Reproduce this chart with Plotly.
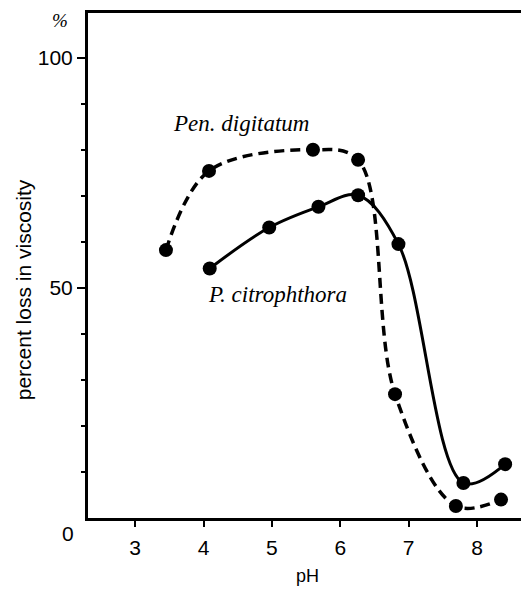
import plotly.graph_objects as go

pen_ph = [3.45, 4.08, 5.60, 6.26, 6.80, 7.69, 8.35]
pen_loss = [58.2, 75.4, 80.0, 77.8, 26.9, 2.6, 4.0]
cit_ph = [4.09, 4.96, 5.68, 6.26, 6.85, 7.80, 8.41]
cit_loss = [54.2, 63.1, 67.6, 70.1, 59.5, 7.6, 11.7]
x_ticks = [3, 4, 5, 6, 7, 8]
y_label_ticks = [50, 100]
y_minor_ticks = [10, 20, 30, 40, 60, 70, 80, 90]

fig = go.Figure()
fig.add_trace(go.Scatter(x=pen_ph, y=pen_loss, mode="lines+markers",
                         line=dict(color="black", width=3.5, dash="10px,6px", shape="spline", smoothing=1.0),
                         marker=dict(color="black", size=14), name="Pen. digitatum"))
fig.add_trace(go.Scatter(x=cit_ph, y=cit_loss, mode="lines+markers",
                         line=dict(color="black", width=3, shape="spline", smoothing=1.0),
                         marker=dict(color="black", size=14), name="P. citrophthora"))

tick_font = dict(family="Liberation Sans Narrow, Liberation Sans, Arial", size=21, color="black")
title_font = dict(family="Liberation Sans, Arial", size=18, color="black")
fig.update_layout(
    width=521, height=582, showlegend=False,
    margin=dict(l=80, r=2, t=5, b=72),
    plot_bgcolor="white", paper_bgcolor="white",
    xaxis=dict(range=[2.31, 8.73], tickvals=x_ticks, ticks="outside", ticklen=6, tickwidth=2,
               tickcolor="black", showgrid=False, zeroline=False, showline=True, linecolor="black",
               linewidth=3, mirror=True, tickfont=tick_font, ticklabelstandoff=3, automargin=False),
    yaxis=dict(range=[0, 109.7], tickvals=y_label_ticks, ticks="outside", ticklen=8, tickwidth=2,
               tickcolor="black", showgrid=False, zeroline=False, showline=True, linecolor="black",
               linewidth=3, mirror=True, tickfont=tick_font, automargin=False,
               minor=dict(tickvals=y_minor_ticks, ticks="outside", ticklen=4, tickwidth=2, tickcolor="black")),
)

fig.add_annotation(text="pH", xref="paper", yref="paper", x=0.499, y=-0.115, showarrow=False,
                   font=title_font, xanchor="center", yanchor="middle")
fig.add_annotation(text="percent loss in viscosity", xref="paper", yref="paper", x=-0.148, y=0.451,
                   showarrow=False, font=dict(family="Liberation Sans, Arial", size=21, color="black"),
                   textangle=-90, xanchor="center", yanchor="middle")
fig.add_annotation(text="0", xref="paper", yref="paper", x=-0.027, y=-0.03, showarrow=False,
                   font=tick_font, xanchor="right", yanchor="middle")
fig.add_annotation(text="<i>%</i>", xref="paper", yref="paper", x=-0.064, y=0.986, showarrow=False,
                   font=dict(family="Liberation Serif, Times New Roman", size=19, color="black"),
                   xanchor="center", yanchor="middle")
fig.add_annotation(text="<i>Pen. digitatum</i>", x=4.55, y=85.6, showarrow=False,
                   font=dict(family="Liberation Serif, Times New Roman", size=23, color="black"))
fig.add_annotation(text="<i>P. citrophthora</i>", x=5.08, y=48.5, showarrow=False,
                   font=dict(family="Liberation Serif, Times New Roman", size=23, color="black"))

fig.write_html("out.html")
